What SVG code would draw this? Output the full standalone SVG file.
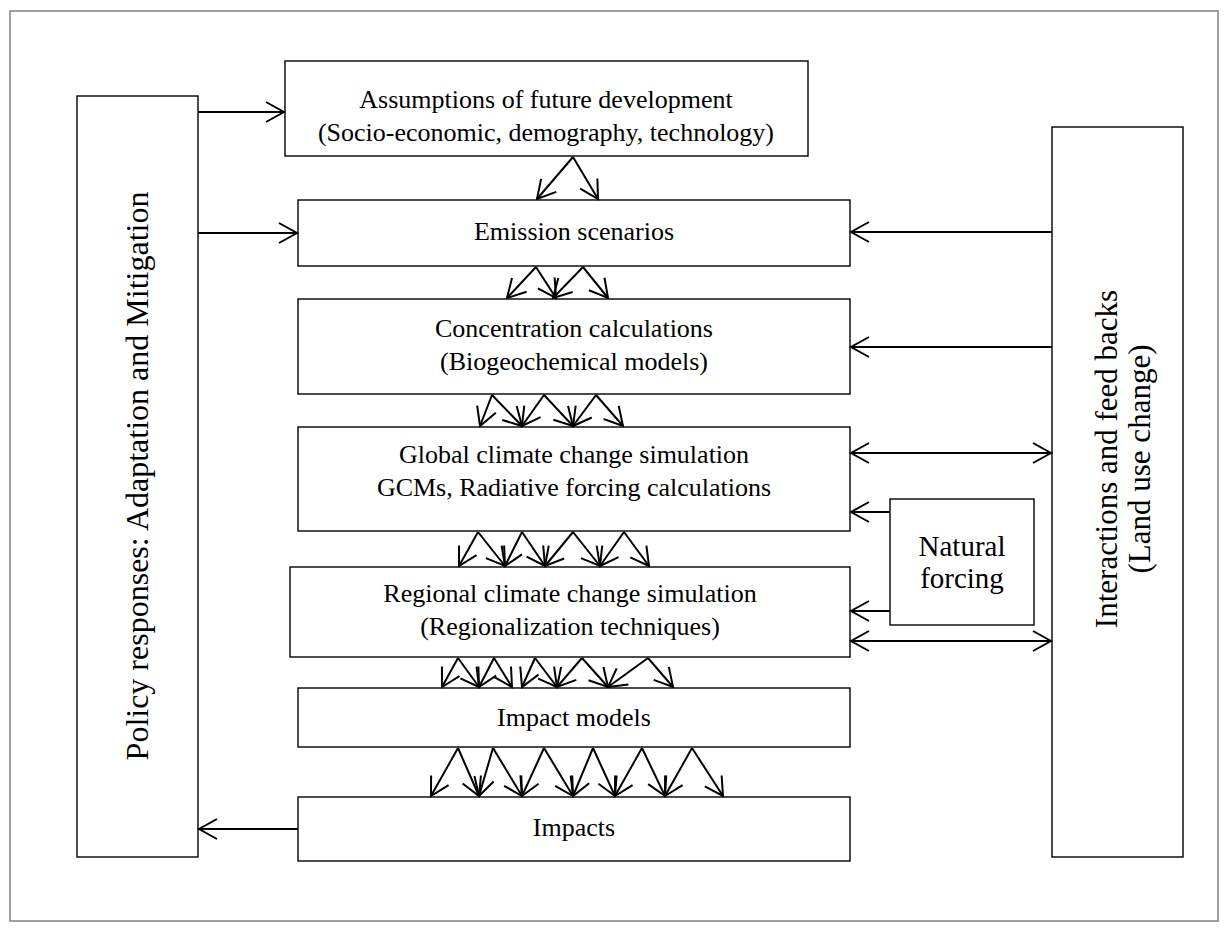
<svg xmlns="http://www.w3.org/2000/svg" width="1228" height="933" viewBox="0 0 1228 933">
<style>
.bx{fill:#fff;stroke:#000;stroke-width:1.4}
.t{font-family:"Liberation Serif","Times New Roman",serif;font-size:26px;fill:#000;text-anchor:middle}
.r{font-size:31px}
.n{font-size:29px}
.c{fill:none;stroke:#000;stroke-width:2;marker-end:url(#ah)}
.d{fill:none;stroke:#000;stroke-width:2;marker-end:url(#ah);marker-start:url(#as)}
</style>
<defs>
<marker id="ah" viewBox="-20 -12 22 24" refX="0" refY="0" markerWidth="22" markerHeight="24" markerUnits="userSpaceOnUse" orient="auto"><path d="M-18,-10 L0,0 L-18,10" fill="none" stroke="#000" stroke-width="2"/></marker>
<marker id="as" viewBox="-20 -12 22 24" refX="0" refY="0" markerWidth="22" markerHeight="24" markerUnits="userSpaceOnUse" orient="auto-start-reverse"><path d="M-18,-10 L0,0 L-18,10" fill="none" stroke="#000" stroke-width="2"/></marker>
</defs>
<rect x="0" y="0" width="1228" height="933" fill="#fff"/>
<rect x="10" y="11" width="1208" height="910" fill="none" stroke="#808080" stroke-width="1.5"/>

<g id="policy"><rect class="bx" x="77" y="96" width="121" height="761"/>
<text class="t r" style="font-size:32px" transform="translate(148,476) rotate(-90)">Policy responses: Adaptation and Mitigation</text></g>
<g id="interactions"><rect class="bx" x="1052" y="127" width="131" height="730"/>
<text class="t r" transform="translate(1117,459) rotate(-90)">Interactions and feed backs</text>
<text class="t r" transform="translate(1150,459) rotate(-90)">(Land use change)</text></g>
<g id="assumptions"><rect class="bx" x="285" y="61" width="523" height="95"/>
<text class="t" x="546" y="108">Assumptions of future development</text>
<text class="t" x="546" y="141">(Socio-economic, demography, technology)</text></g>
<g id="emission"><rect class="bx" x="298" y="200" width="552" height="66"/>
<text class="t" x="574" y="240">Emission scenarios</text></g>
<g id="concentration"><rect class="bx" x="298" y="299" width="552" height="95"/>
<text class="t" x="574" y="337">Concentration calculations</text>
<text class="t" x="574" y="370">(Biogeochemical models)</text></g>
<g id="global"><rect class="bx" x="298" y="427" width="552" height="104"/>
<text class="t" x="574" y="463">Global climate change simulation</text>
<text class="t" x="574" y="496">GCMs, Radiative forcing calculations</text></g>
<g id="regional"><rect class="bx" x="290" y="567" width="560" height="90"/>
<text class="t" x="570" y="602">Regional climate change simulation</text>
<text class="t" x="570" y="635">(Regionalization techniques)</text></g>
<g id="impactmodels"><rect class="bx" x="298" y="688" width="552" height="59"/>
<text class="t" x="574" y="726">Impact models</text></g>
<g id="impacts"><rect class="bx" x="298" y="797" width="552" height="64"/>
<text class="t" x="574" y="836">Impacts</text></g>
<g id="natural"><rect class="bx" x="890" y="499" width="144" height="126"/>
<text class="t n" x="962" y="556">Natural</text>
<text class="t n" x="962" y="588">forcing</text></g>

<g id="connectors">
<line class="c" x1="198" y1="112" x2="284" y2="112"/>
<line class="c" x1="198" y1="233" x2="297" y2="233"/>
<line class="c" x1="298" y1="829" x2="199" y2="829"/>
<line class="c" x1="1052" y1="232" x2="851" y2="232"/>
<line class="c" x1="1052" y1="347" x2="851" y2="347"/>
<line class="d" x1="851" y1="453" x2="1051" y2="453"/>
<line class="c" x1="890" y1="512" x2="851" y2="512"/>
<line class="c" x1="890" y1="611" x2="851" y2="611"/>
<line class="d" x1="851" y1="641" x2="1051" y2="641"/>

<path class="c" d="M573,157 L537,199"/><path class="c" d="M573,157 L598,199"/>

<path class="c" d="M536,267 L507,298"/><path class="c" d="M536,267 L556,298"/>
<path class="c" d="M583,267 L553,298"/><path class="c" d="M583,267 L608,298"/>

<path class="c" d="M492,395 L480,426"/><path class="c" d="M492,395 L522,426"/>
<path class="c" d="M544,395 L522,426"/><path class="c" d="M544,395 L573,426"/>
<path class="c" d="M596,395 L573,426"/><path class="c" d="M596,395 L623,426"/>

<path class="c" d="M478,532 L459,566"/><path class="c" d="M478,532 L505,566"/>
<path class="c" d="M522,532 L505,566"/><path class="c" d="M522,532 L545,566"/>
<path class="c" d="M573,532 L545,566"/><path class="c" d="M573,532 L600,566"/>
<path class="c" d="M624,532 L600,566"/><path class="c" d="M624,532 L649,566"/>

<path class="c" d="M458,658 L442,687"/><path class="c" d="M458,658 L479,687"/>
<path class="c" d="M494,658 L479,687"/><path class="c" d="M494,658 L512,687"/>
<path class="c" d="M535,658 L522,687"/><path class="c" d="M535,658 L557,687"/>
<path class="c" d="M582,658 L557,687"/><path class="c" d="M582,658 L608,687"/>
<path class="c" d="M648,658 L608,687"/><path class="c" d="M648,658 L673,687"/>

<path class="c" d="M458,748 L431,796"/><path class="c" d="M458,748 L479,796"/>
<path class="c" d="M493,748 L479,796"/><path class="c" d="M493,748 L522,796"/>
<path class="c" d="M544,748 L522,796"/><path class="c" d="M544,748 L573,796"/>
<path class="c" d="M593,748 L573,796"/><path class="c" d="M593,748 L615,796"/>
<path class="c" d="M642,748 L615,796"/><path class="c" d="M642,748 L665,796"/>
<path class="c" d="M692,748 L665,796"/><path class="c" d="M692,748 L723,796"/>
</g>
</svg>
